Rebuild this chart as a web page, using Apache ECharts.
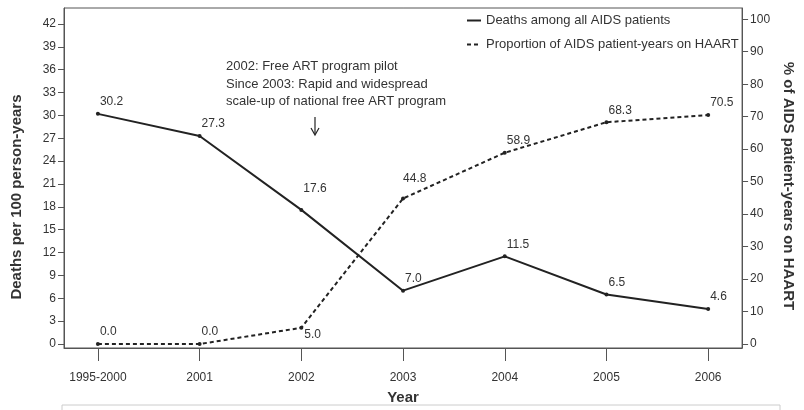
<!DOCTYPE html>
<html>
<head>
<meta charset="utf-8">
<script src="https://cdn.jsdelivr.net/npm/echarts@6/dist/echarts.min.js"></script>
<style>
  html, body { margin: 0; padding: 0; background: #fff; }
  #chart { width: 804px; height: 410px; }
</style>
</head>
<body>
<div id="chart"></div>
<script>
/* data */
const years = ['1995-2000', '2001', '2002', '2003', '2004', '2005', '2006'];
const deaths = [30.2, 27.3, 17.6, 7.0, 11.5, 6.5, 4.6];
const haart = [0.0, 0.0, 5.0, 44.8, 58.9, 68.3, 70.5];
const leftTicks = [0, 3, 6, 9, 12, 15, 18, 21, 24, 27, 30, 33, 36, 39, 42];
const rightTicks = [0, 10, 20, 30, 40, 50, 60, 70, 80, 90, 100];
const xTicks = [0, 1, 2, 3, 4, 5, 6];

const FONT = '"Liberation Sans", Arial, sans-serif';
const TEXT = '#333';
const LINE = '#222';
const AXIS = '#555';

// label placement tweaks (relative to the point)
const labelPos = { deaths: { 2: [4, -25] }, haart: { 2: [5, 3], 3: [2, -24] } };

function pts(values, key) {
    return values.map((v, i) => {
        const p = { value: [i, v] };
        if (labelPos[key] && labelPos[key][i]) {
            p.label = { position: labelPos[key][i] };
        }
        return p;
    });
}

const chart = echarts.init(document.getElementById('chart'));
chart.setOption({
    animation: false,
    textStyle: { fontFamily: FONT },
    grid: {
        left: 64, right: 58, top: 8, bottom: 61,
        show: true, borderColor: AXIS, borderWidth: 1
    },
    legend: {
        left: 461, top: 9,
        orient: 'vertical',
        itemGap: 11,
        itemWidth: 14,
        itemHeight: 13,
        itemTextGap: 4,
        textStyle: { fontSize: 13, color: TEXT, fontFamily: FONT },
        itemStyle: { opacity: 0 },
        data: ['Deaths among all AIDS patients', 'Proportion of AIDS patient-years on HAART']
    },
    xAxis: {
        type: 'value',
        min: -1 / 3,
        max: 6 + 1 / 3,
        name: 'Year',
        nameLocation: 'middle',
        nameGap: 42,
        nameTextStyle: { fontWeight: 'bold', fontSize: 15, color: TEXT },
        splitLine: { show: false },
        axisLine: { onZero: false, lineStyle: { color: AXIS } },
        axisTick: { customValues: xTicks, length: 13, lineStyle: { color: AXIS } },
        axisLabel: {
            customValues: xTicks,
            margin: 24,
            fontSize: 12,
            color: TEXT,
            formatter: v => years[Math.round(v)]
        }
    },
    yAxis: [{
        type: 'value',
        min: -0.523,
        max: 44.09,
        name: 'Deaths per 100 person-years',
        nameLocation: 'middle',
        nameGap: 40,
        nameTextStyle: { fontWeight: 'bold', fontSize: 15, color: TEXT, padding: [0, 38, 0, 0] },
        splitLine: { show: false },
        axisLine: { show: true, onZero: false, lineStyle: { color: AXIS } },
        axisTick: { show: true, customValues: leftTicks, length: 6, lineStyle: { color: AXIS } },
        axisLabel: { customValues: leftTicks, margin: 8, fontSize: 12, color: TEXT }
    }, {
        type: 'value',
        position: 'right',
        min: -1.228,
        max: 103.47,
        name: '% of AIDS patient-years on HAART',
        nameLocation: 'middle',
        nameRotate: -90,
        nameGap: 38,
        nameTextStyle: { fontWeight: 'bold', fontSize: 15, color: TEXT, padding: [0, 0, 0, 16] },
        splitLine: { show: false },
        axisLine: { show: true, onZero: false, lineStyle: { color: AXIS } },
        axisTick: { show: true, customValues: rightTicks, length: 6, lineStyle: { color: AXIS } },
        axisLabel: { customValues: rightTicks, margin: 8, fontSize: 12, color: TEXT }
    }],
    series: [{
        name: 'Deaths among all AIDS patients',
        type: 'line',
        yAxisIndex: 0,
        data: pts(deaths, 'deaths'),
        symbol: 'circle',
        symbolSize: 4,
        itemStyle: { color: LINE },
        lineStyle: { color: LINE, width: 2 },
        label: {
            show: true, position: [4, -16], fontSize: 12, color: TEXT,
            formatter: p => p.value[1].toFixed(1)
        }
    }, {
        name: 'Proportion of AIDS patient-years on HAART',
        type: 'line',
        yAxisIndex: 1,
        data: pts(haart, 'haart'),
        symbol: 'circle',
        symbolSize: 4,
        itemStyle: { color: LINE },
        lineStyle: { color: LINE, width: 2, type: [4, 3] },
        label: {
            show: true, position: [4, -16], fontSize: 12, color: TEXT,
            formatter: p => p.value[1].toFixed(1)
        }
    }],
    graphic: [{
        type: 'text', left: 226, top: 58,
        style: {
            text: '2002: Free ART program pilot\nSince 2003: Rapid and widespread\nscale-up of national free ART program',
            font: '13px ' + FONT, fill: TEXT, lineHeight: 17.5
        }
    }, {
        type: 'line',
        shape: { x1: 315, y1: 117, x2: 315, y2: 134 },
        style: { stroke: '#222', lineWidth: 1.2 }
    }, {
        type: 'polyline',
        shape: { points: [[311, 128], [315, 135], [319, 128]] },
        style: { stroke: '#222', lineWidth: 1.2, fill: null }
    }, {
        type: 'rect',
        shape: { x: 62, y: 405, width: 718, height: 20 },
        style: { stroke: '#ccc', lineWidth: 1, fill: null }
    }]
});
</script>
</body>
</html>
